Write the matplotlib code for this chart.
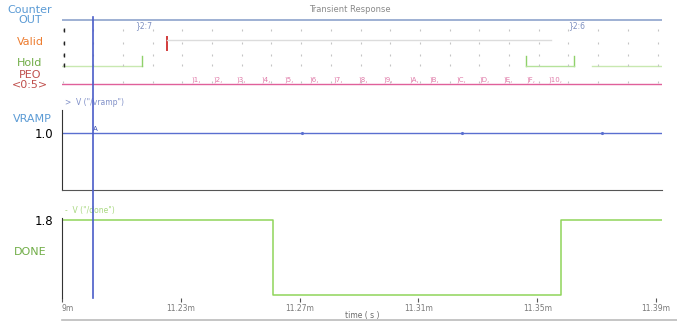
import matplotlib.pyplot as plt
from matplotlib.transforms import blended_transform_factory
from matplotlib.lines import Line2D
import numpy as np

# time axis (ms)
t_start, t_end = 11.19, 11.392
tick_times = [11.19, 11.23, 11.27, 11.31, 11.35, 11.39]
tick_labels = ['9m', '11.23m', '11.27m', '11.31m', '11.35m', '11.39m']
cursor_t = 11.2004

# digital signals
counter_labels = ['2:7', '2:6']
counter_times = [11.2145, 11.3604]
valid_rise, valid_fall = 11.2253, 11.3547
hold_edges = [11.2169, 11.3463, 11.3624]
peo_times = [11.2334, 11.2411, 11.2488, 11.2572, 11.2650, 11.2734, 11.2814, 11.2898,
             11.2982, 11.3070, 11.3137, 11.3228, 11.3305, 11.3386, 11.3463, 11.3537]
peo_labels = ['1', '2', '3', '4', '5', '6', '7', '8', '9', 'A', 'B', 'C', 'D', 'E', 'F', '10']

# analog signals
vramp_t = [t_start, t_end]
vramp_v = [1.0, 1.0]
done_t = [t_start, 11.261, 11.358, t_end]
done_v = [1.8, 0.0, 1.8, 1.8]

fig = plt.figure(figsize=(6.77, 3.21), dpi=100)
L, W = 62 / 677, 600 / 677

def frac(top_px, bot_px):
    return [L, 1 - bot_px / 321, W, (bot_px - top_px) / 321]

######## digital panel ########
axd = fig.add_axes(frac(15, 90))
axd.set_xlim(t_start, t_end)
axd.set_ylim(90, 15)   # row positions
axd.axis('off')
row_counter, row_valid, row_hold, row_peo = 20, 41, 65, 84

axd.plot([t_start, t_end], [row_counter] * 2, color='#8ea3cc', lw=1.2)
for t, s in zip(counter_times, counter_labels):
    axd.text(t, row_counter + 1.5, '}' + s, color='#7d8fc0', fontsize=5.5, va='top', ha='left')

axd.plot([valid_rise, valid_rise], [37, 50], color='#d23b3b', lw=1.4)
axd.plot([valid_rise, valid_fall], [40, 40], color='#dcdcdc', lw=1)

axd.plot([t_start, hold_edges[0]], [66, 66], color='#c8e8b0', lw=1)
for e in hold_edges:
    axd.plot([e, e], [56, 66], color='#8fd16a', lw=1)
axd.plot([hold_edges[1], hold_edges[2]], [66, 66], color='#b5e29a', lw=1)
axd.plot([11.3685, t_end], [66, 66], color='#c8e8b0', lw=1)

axd.plot([t_start, t_end], [row_peo, row_peo], color='#e0609a', lw=1)
for t, s in zip(peo_times, peo_labels):
    axd.text(t, row_peo - 1, ')' + s + ',', color='#e07aa8', fontsize=5, va='bottom', ha='left')

# faint grid marks on digital rows
marks = np.arange(t_start + 0.0005, t_end, 0.01)
for r in [row_counter + 10, row_valid + 2, row_hold - 10, row_hold, row_peo - 2]:
    axd.plot(marks, [r] * len(marks), ls='none', marker='|', ms=2, color='#c4c4c4', mew=0.8)
axd.plot([t_start + 0.0008] * 4, [30, row_valid + 2, row_hold - 10, row_hold], ls='none',
         marker='|', ms=3, color='#222222', mew=1)
axd.text(0.48, 1.02, 'Transient Response', transform=axd.transAxes, fontsize=6,
         color='#8a8a8a', ha='center', va='bottom')

######## VRAMP panel ########
axv = fig.add_axes(frac(110, 190))
axv.set_xlim(t_start, t_end)
axv.set_ylim(0.0, 1.4035)
axv.plot(vramp_t, vramp_v, color='#5a6fd0', lw=1)
axv.plot([11.2707, 11.3245, 11.3718], [1.0] * 3, ls='none', marker='.', ms=2.5, color='#5a6fd0')
axv.text(11.2005, 1.01, 'A', fontsize=5, color='#3a4fb0', va='bottom')
axv.set_yticks([1.0])
axv.set_yticklabels(['1.0'], fontsize=8.5)
axv.set_xticks([])
axv.tick_params(axis='y', length=0, pad=6)
for s in ['top', 'right']:
    axv.spines[s].set_visible(False)
axv.spines['left'].set_color('#333333')
axv.spines['bottom'].set_color('#555555')
axv.text(0.005, 1.04, '>  V ("/vramp")', transform=axv.transAxes, fontsize=5.5,
         color='#8090c8', va='bottom')
axv.patch.set_alpha(0)

######## DONE panel ########
axn = fig.add_axes(frac(218, 298))
axn.set_xlim(t_start, t_end)
axn.set_ylim(-0.072, 1.848)
axn.plot(done_t, done_v, drawstyle='steps-post', color='#8fd45a', lw=1.1)
axn.set_yticks([1.8])
axn.set_yticklabels(['1.8'], fontsize=8.5)
axn.tick_params(axis='y', length=0, pad=6)
axn.set_xticks(tick_times)
axn.set_xticklabels(tick_labels, fontsize=5.5, color='#7a7a7a')
axn.get_xticklabels()[0].set_ha('left')
axn.tick_params(axis='x', length=3, color='#555555', pad=1)
for s in ['top', 'right']:
    axn.spines[s].set_visible(False)
axn.spines['left'].set_color('#333333')
axn.spines['bottom'].set_visible(False)
axn.text(0.005, 1.04, '-  V ("/done")', transform=axn.transAxes, fontsize=5.5,
         color='#a8d880', va='bottom')
axn.set_xlabel('time ( s )', fontsize=5.5, color='#6a6a6a', labelpad=-1)
axn.patch.set_alpha(0)

# bottom border
fig.add_artist(Line2D([L, 1.0], [1 - 319.5 / 321] * 2, transform=fig.transFigure,
                      color='#bbbbbb', lw=1.2))

# cursor through all panels
tr = blended_transform_factory(axd.transData, fig.transFigure)
fig.add_artist(Line2D([cursor_t, cursor_t], [1 - 17 / 321, 1 - 298 / 321], transform=tr,
                      color='#4a5cc8', lw=1.2))

# signal names on the left
fig.text(30 / 677, 1 - 15 / 321, 'Counter\nOUT', color='#5b9bd5', fontsize=8,
         ha='center', va='center', linespacing=0.9)
fig.text(30 / 677, 1 - 42 / 321, 'Valid', color='#ed7d31', fontsize=8, ha='center', va='center')
fig.text(30 / 677, 1 - 63 / 321, 'Hold', color='#70ad47', fontsize=8, ha='center', va='center')
fig.text(30 / 677, 1 - 80 / 321, 'PEO\n<0:5>', color='#c0504d', fontsize=8,
         ha='center', va='center', linespacing=0.9)
fig.text(32 / 677, 1 - 119 / 321, 'VRAMP', color='#5b9bd5', fontsize=8, ha='center', va='center')
fig.text(30 / 677, 1 - 252 / 321, 'DONE', color='#70ad47', fontsize=8, ha='center', va='center')

fig.savefig('out.png', dpi=100)
